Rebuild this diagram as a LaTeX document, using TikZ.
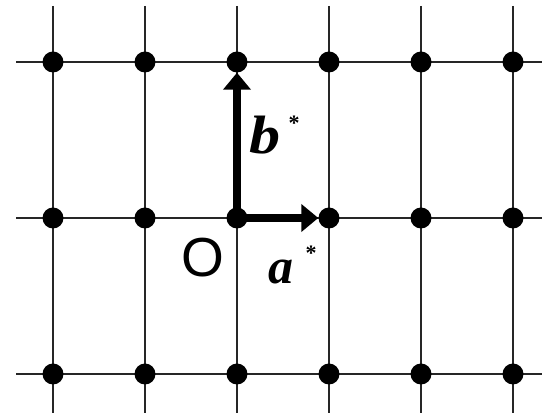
\documentclass[tikz,border=0pt]{standalone}
\usepackage{fontspec}
\setmainfont{Liberation Serif}
\newfontfamily\labsans{Liberation Sans}
\usetikzlibrary{arrows.meta}
\begin{document}
\begin{tikzpicture}[x=1pt,y=-1pt,
  gridline/.style={line width=2pt,black!85},
  dot/.style={circle,fill=black,inner sep=0pt,minimum size=21pt},
  vec/.style={line width=8pt,-{Triangle[length=17pt,width=27pt]}},
  lab/.style={inner sep=0pt,anchor=base west}]
\useasboundingbox (0,0) rectangle (542,419);
\foreach \i in {0,...,5} {
  \draw[gridline] ({53+92*\i},6) -- ({53+92*\i},413);
}
\foreach \j in {0,1,2} {
  \draw[gridline] (16,{62+156*\j}) -- (542,{62+156*\j});
}
\foreach \i in {0,...,5} {
  \foreach \j in {0,1,2} {
    \node[dot] (d\i\j) at ({53+92*\i},{62+156*\j}) {};
  }
}
\draw[vec] (d21.center) -- (d20);
\draw[vec] (d21.center) -- (d31);
\node[lab,xscale=1.15] (b) at (249,154) {\fontsize{54}{54}\selectfont\bfseries\itshape b};
\node[lab] (bs) at (288.5,131) {\fontsize{22}{22}\selectfont\bfseries *};
\node[lab] (a) at (268,284) {\fontsize{50}{50}\selectfont\bfseries\itshape a};
\node[lab] (as) at (305.5,261) {\fontsize{22}{22}\selectfont\bfseries *};
\node[lab] (o) at (181,277) {\fontsize{55}{55}\selectfont\labsans O};
\end{tikzpicture}
\end{document}
